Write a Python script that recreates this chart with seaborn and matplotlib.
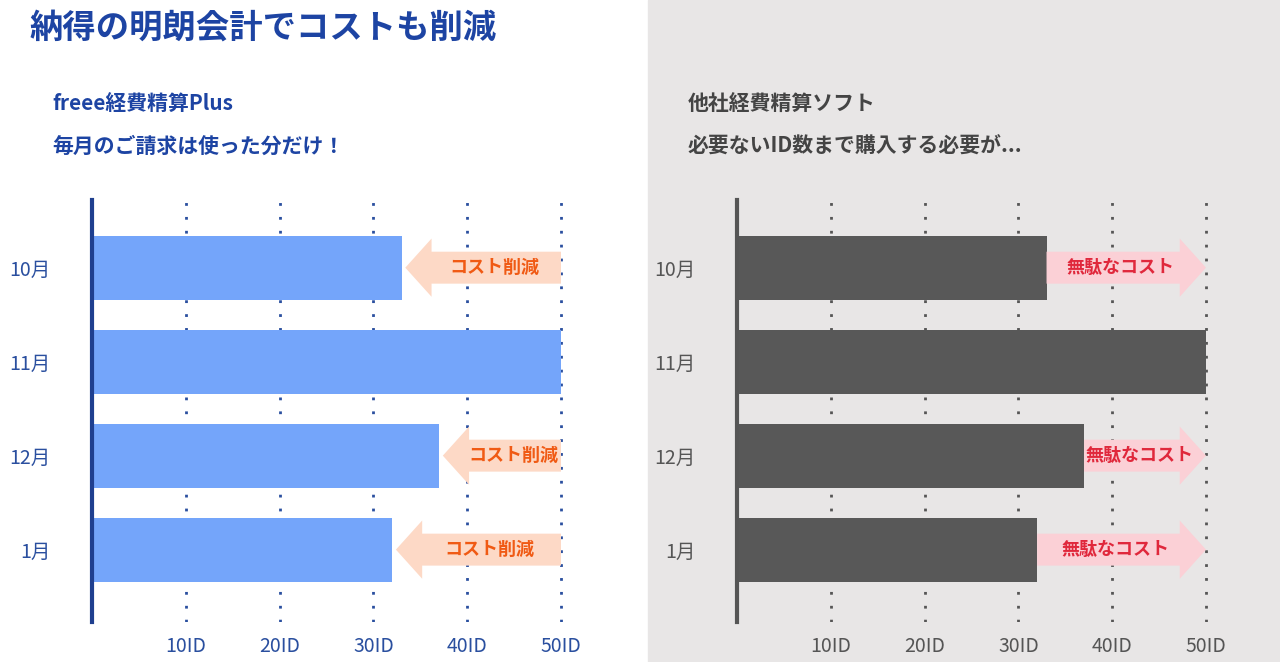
import matplotlib
matplotlib.use("Agg")
import matplotlib.pyplot as plt
import seaborn as sns
import pandas as pd
from matplotlib.patches import FancyArrow, Rectangle

sns.set_theme(style="white")
plt.rcParams['font.family'] = ['Noto Sans CJK JP', 'DejaVu Sans']

# ---------------------------------------------------------------------------
# Data
# ---------------------------------------------------------------------------
MONTHS = ["10月", "11月", "12月", "1月"]
FREEE_IDS = [33, 50, 37, 32]
OTHER_IDS = [33, 50, 37, 32]
MAX_IDS = 50
TICKS = [10, 20, 30, 40, 50]
TICK_LABELS = ["10ID", "20ID", "30ID", "40ID", "50ID"]

BLUE = "#1d44a3"
fig = plt.figure(figsize=(12.8, 6.62), dpi=100)
fig.patches.append(Rectangle((648 / 1280, 0), 1 - 648 / 1280, 1, transform=fig.transFigure,
                             color="#e8e6e6", zorder=-10))

fig.text(30 / 1280, 1 - 28 / 662, "納得の明朗会計でコストも削減", fontsize=24,
         fontweight="bold", color=BLUE, va="center")
fig.text(52 / 1280, 1 - 104 / 662, "freee経費精算Plus", fontsize=15,
         fontweight="bold", color=BLUE, va="center")
fig.text(52 / 1280, 1 - 146 / 662, "毎月のご請求は使った分だけ！", fontsize=15,
         fontweight="bold", color=BLUE, va="center")
fig.text(688 / 1280, 1 - 104 / 662, "他社経費精算ソフト", fontsize=15,
         fontweight="bold", color="#444444", va="center")
fig.text(688 / 1280, 1 - 146 / 662, "必要ないID数まで購入する必要が...", fontsize=15,
         fontweight="bold", color="#444444", va="center")


def panel(left_px, values, bar_color, spine_color, tick_color, arrow_color,
          text_color, label, direction):
    unit = 9.38
    width_px = 53 * unit
    ax = fig.add_axes([left_px / 1280, 1 - 622 / 662, width_px / 1280, 422 / 662])
    ax.set_facecolor("none")
    df = pd.DataFrame({"month": MONTHS, "ids": values})
    sns.barplot(data=df, x="ids", y="month", orient="h", color=bar_color,
                width=0.68, saturation=1, linewidth=0, ax=ax, zorder=2)
    ax.set_xlim(0, 53)
    ax.set_ylim(3.77, -0.72)
    for t in TICKS:
        ax.axvline(t, color=tick_color, ls=(0, (1, 4)), lw=2, zorder=1)
    for i, v in enumerate(values):
        if v >= MAX_IDS:
            continue
        if direction == "left":
            start, end = MAX_IDS, v + 0.4
        else:
            start, end = v, MAX_IDS
        dx = end - start
        ax.add_patch(FancyArrow(start, i, dx, 0, width=0.34, head_width=0.62,
                                head_length=min(2.8, abs(dx)), length_includes_head=True,
                                color=arrow_color, lw=0, zorder=3))
        cx = (start + end) / 2 + (1.2 if direction == "left" else -0.6)
        ax.text(cx, i, label, ha="center", va="center", fontsize=13,
                fontweight="bold", color=text_color, zorder=4)
    ax.set_xticks(TICKS, TICK_LABELS)
    ax.tick_params(axis="x", length=0, labelsize=14, colors=tick_color, pad=10)
    ax.tick_params(axis="y", length=0, labelsize=14, colors=tick_color, pad=30)
    for s in ["top", "right", "bottom"]:
        ax.spines[s].set_visible(False)
    ax.spines["left"].set_color(spine_color)
    ax.spines["left"].set_linewidth(3)
    ax.set_xlabel("")
    ax.set_ylabel("")
    return ax


panel(92, FREEE_IDS, "#74a5fa", "#1f3f8f", "#2a4f9f", "#fdd9c6", "#f05a14",
      "コスト削減", "left")
panel(737, OTHER_IDS, "#585858", "#555555", "#555555", "#fbd0d6", "#e0283c",
      "無駄なコスト", "right")

fig.savefig("out.png", dpi=100)
